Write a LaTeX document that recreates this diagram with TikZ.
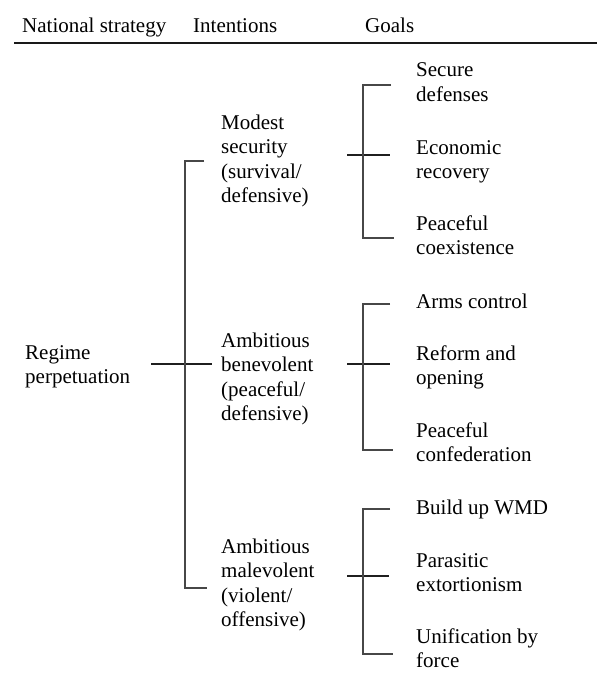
\documentclass[tikz,border=0pt]{standalone}
\usepackage{fontspec}
\setmainfont{Liberation Serif}
\newcommand\mystk[1]{\begin{tabular}[t]{@{}l@{}}#1\end{tabular}}
\begin{document}
\begin{tikzpicture}[x=1pt,y=-1pt,
  lbl/.style={anchor=base west,inner sep=0pt,font=\fontsize{21}{24.5}\selectfont},
  tie/.style={draw=black!88,line width=1.4pt},
  brk/.style={draw=black!72,line width=1.2pt},
  rulel/.style={draw=black!90,line width=2pt}]
\useasboundingbox (0,0) rectangle (597,677);
% header
\node[lbl] (h1) at (22,33) {National strategy};
\node[lbl] (h2) at (193,33) {Intentions};
\node[lbl] (h3) at (365,33) {Goals};
\coordinate (rl) at (14,43);
\coordinate (rr) at (597,43);
\draw[rulel] (rl) -- (rr);
% strategy
\node[lbl] (reg) at (25,359) {\mystk{Regime\\perpetuation}};
% intentions
\node[lbl] (i1) at (221,129) {\mystk{Modest\\security\\(survival/\\defensive)}};
\node[lbl] (i2) at (221,347) {\mystk{Ambitious\\benevolent\\(peaceful/\\defensive)}};
\node[lbl] (i3) at (221,553) {\mystk{Ambitious\\malevolent\\(violent/\\offensive)}};
% goals
\node[lbl] (g11) at (416,77) {\mystk{Secure\\defenses}};
\node[lbl] (g12) at (416,154) {\mystk{Economic\\recovery}};
\node[lbl] (g13) at (416,230) {\mystk{Peaceful\\coexistence}};
\node[lbl] (g21) at (416,308) {Arms control};
\node[lbl] (g22) at (416,360) {\mystk{Reform and\\opening}};
\node[lbl] (g23) at (416,437) {\mystk{Peaceful\\confederation}};
\node[lbl] (g31) at (416,514) {Build up WMD};
\node[lbl] (g32) at (416,567) {\mystk{Parasitic\\extortionism}};
\node[lbl] (g33) at (416,643) {\mystk{Unification by\\force}};
% main bracket
\coordinate (m0) at (151,364);
\coordinate (m1) at (212,364);
\coordinate (mt) at (204,161);
\coordinate (mb) at (207,588);
\draw[tie] (m0) -- (m1);
\draw[brk] (mt) -- (185,161) -- (185,588) -- (mb);
% group 1
\coordinate (a0) at (347,155);
\coordinate (a1) at (390,155);
\coordinate (at) at (391,85);
\coordinate (ab) at (394,238);
\draw[tie] (a0) -- (a1);
\draw[brk] (at) -- (363,85) -- (363,238) -- (ab);
% group 2
\coordinate (b0) at (347,364);
\coordinate (b1) at (390,364);
\coordinate (bt) at (390,304);
\coordinate (bb) at (393,450);
\draw[tie] (b0) -- (b1);
\draw[brk] (bt) -- (363,304) -- (363,450) -- (bb);
% group 3
\coordinate (c0) at (347,576);
\coordinate (c1) at (389,576);
\coordinate (ct) at (390,509);
\coordinate (cb) at (393,654);
\draw[tie] (c0) -- (c1);
\draw[brk] (ct) -- (363,509) -- (363,654) -- (cb);
\end{tikzpicture}
\end{document}
